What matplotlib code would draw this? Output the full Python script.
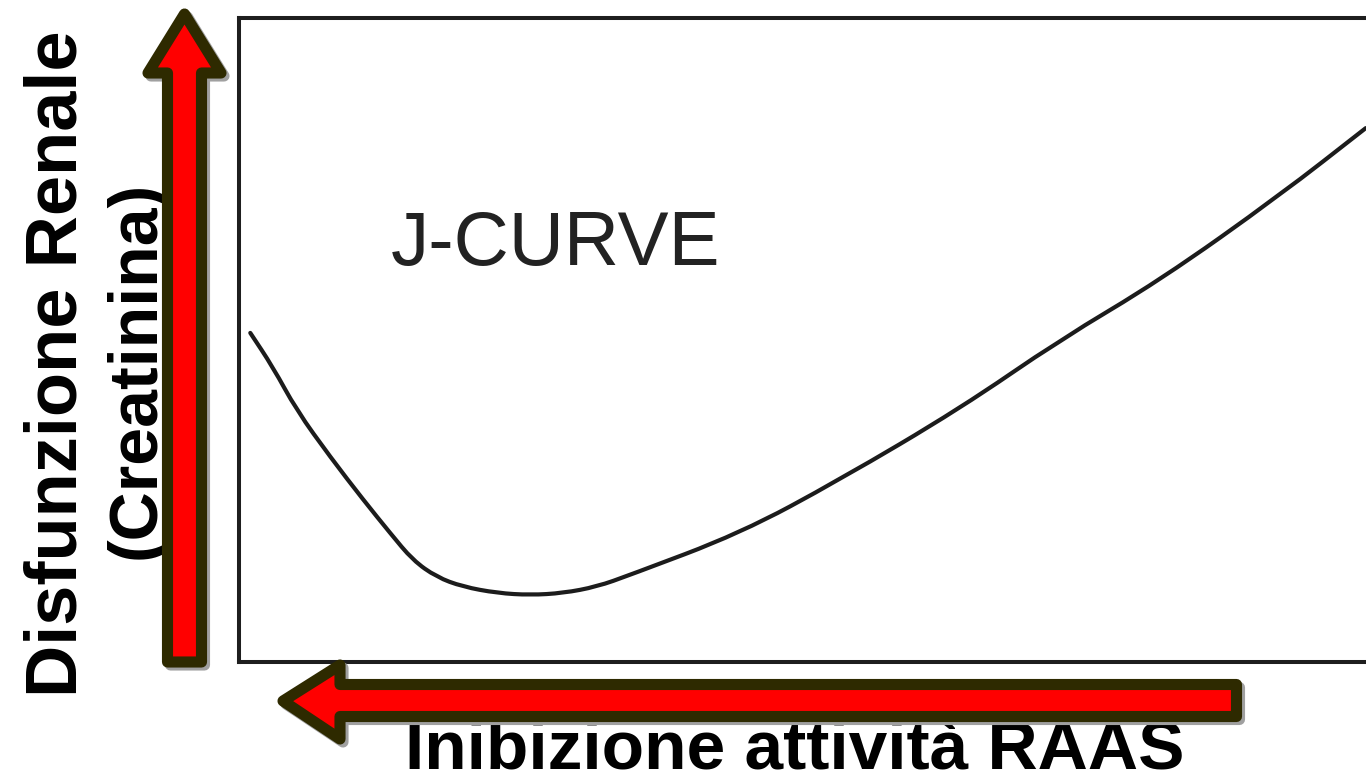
import matplotlib.pyplot as plt
from matplotlib.patches import Polygon, PathPatch
from matplotlib.path import Path

# J-curve (x: 0..100 across the box, y: 0..100 bottom to top)
curve_x = [1.0, 3.0, 5.1, 8.1, 11.0, 13.4, 15.4, 17.5, 19.8, 22.9, 25.8,
           28.7, 31.7, 34.6, 44.4, 53.2, 63.9, 72.7, 81.6, 92.2, 99.8]
curve_y = [51.1, 45.8, 39.1, 31.8, 25.2, 20.0, 15.8, 13.2, 11.7, 10.7, 10.4,
           10.7, 11.7, 13.5, 20.0, 28.3, 39.4, 50.0, 59.3, 72.5, 82.9]

title_text = "J-CURVE"
ylabel_1 = "Disfunzione Renale"
ylabel_2 = "(Creatinina)"
xlabel = "Inibizione attività RAAS"

W, H = 1366, 776
fig = plt.figure(figsize=(W / 100, H / 100), dpi=100)
fig.patch.set_facecolor("white")

# main box (right edge runs off the picture)
left, right, top, bottom = 239, 1368, 18, 662
ax = fig.add_axes([left / W, (H - bottom) / H, (right - left) / W, (bottom - top) / H])

# smooth path through the read points (quadratic segments between midpoints)
pts = list(zip(curve_x, curve_y))
verts = [pts[0]]
codes = [Path.MOVETO]
for i in range(1, len(pts) - 1):
    mid = ((pts[i][0] + pts[i + 1][0]) / 2, (pts[i][1] + pts[i + 1][1]) / 2)
    if i == 1:
        verts.append(((pts[0][0] + pts[1][0]) / 2, (pts[0][1] + pts[1][1]) / 2))
        codes.append(Path.LINETO)
    verts += [pts[i], mid]
    codes += [Path.CURVE3, Path.CURVE3]
verts.append(pts[-1])
codes.append(Path.LINETO)
ax.add_patch(PathPatch(Path(verts, codes), facecolor="none", edgecolor="#1c1c1c",
                       lw=3, capstyle="round", joinstyle="round"))
ax.set_xlim(0, 100)
ax.set_ylim(0, 100)
ax.set_xticks([])
ax.set_yticks([])
for s in ax.spines.values():
    s.set_linewidth(2.9)
    s.set_color("#1e1e1e")

# overlay in pixel coordinates for labels and arrows
ov = fig.add_axes([0, 0, 1, 1], zorder=5)
ov.set_xlim(0, W)
ov.set_ylim(H, 0)
ov.axis("off")
ov.patch.set_alpha(0)

ov.text(391, 265, title_text, fontsize=55, color="#222222",
        family="Liberation Sans", ha="left", va="baseline", zorder=1)

bold = dict(family="Liberation Sans", fontweight="bold", color="black",
            rotation_mode="anchor", zorder=1)
ov.text(77, 364, ylabel_1, fontsize=52, rotation=90, ha="center", va="baseline", **bold)
ov.text(155, 370, ylabel_2, fontsize=49, rotation=90, ha="center", va="baseline", **bold)
ov.text(795, 770, xlabel, fontsize=50, ha="center", va="baseline", **bold)

edge = "#2e2a00"
up_arrow = [(167.5, 662), (201.5, 662), (201.5, 73), (221, 73), (184.5, 14),
            (148, 73), (167.5, 73)]
left_arrow = [(1236.5, 684.5), (340, 684.5), (340, 665), (283, 701), (340, 739),
              (340, 716.5), (1236.5, 716.5)]
for poly in (up_arrow, left_arrow):
    shadow = [(x + 3, y + 3) for x, y in poly]
    ov.add_patch(Polygon(shadow, closed=True, facecolor="#a0a0a0", edgecolor="#a0a0a0",
                         lw=8, joinstyle="round", zorder=2))
    ov.add_patch(Polygon(poly, closed=True, facecolor="#ff0000", edgecolor=edge,
                         lw=8, joinstyle="round", zorder=3))

fig.savefig("out.png", dpi=100, facecolor="white")
